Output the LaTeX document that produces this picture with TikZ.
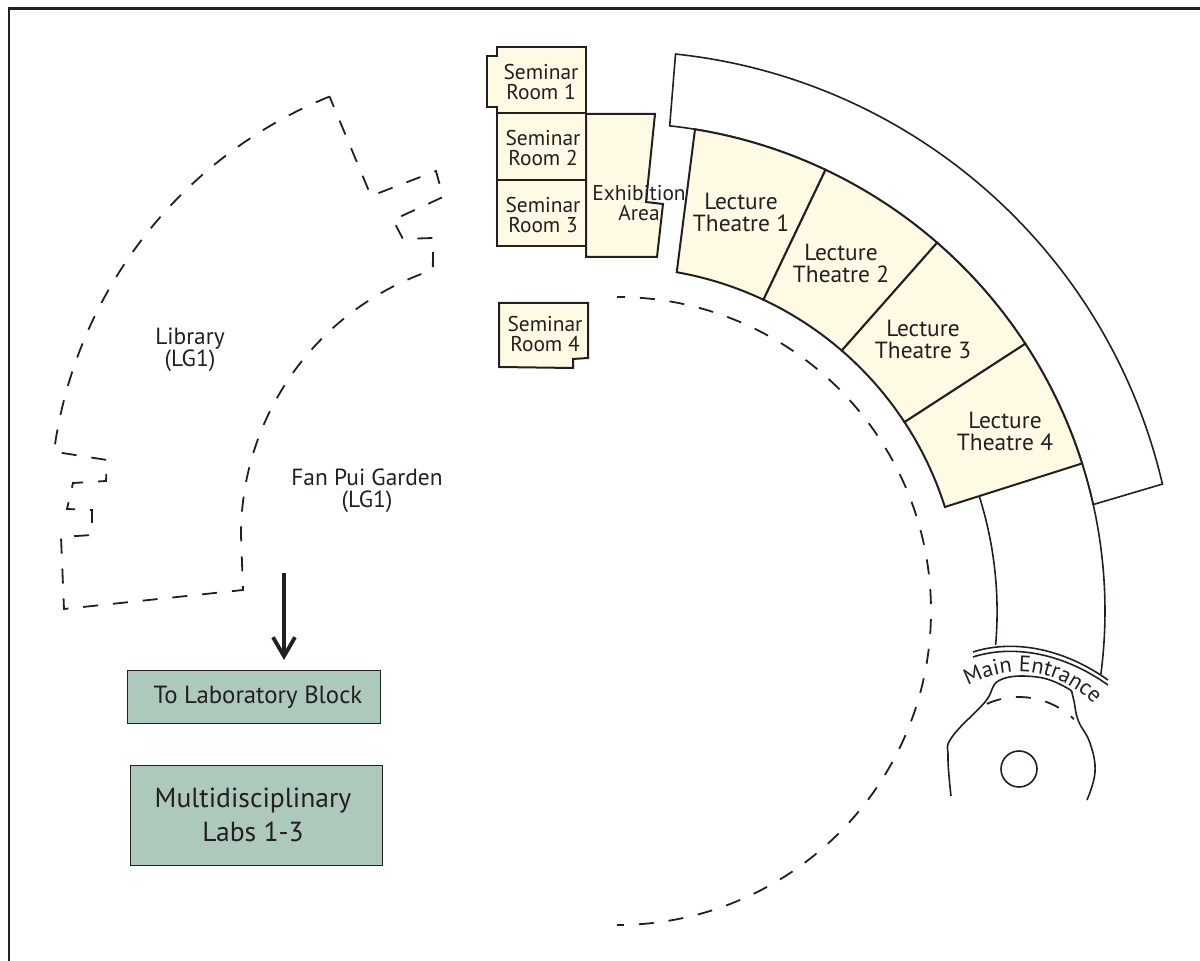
\documentclass[tikz,border=0pt]{standalone}
\usepackage{fontspec}
\setmainfont{PT Sans}
\usetikzlibrary{arrows.meta,decorations.text}
\definecolor{roomcream}{RGB}{255,250,227}
\definecolor{labgreen}{RGB}{173,201,187}
\definecolor{inkdark}{RGB}{35,31,32}
\tikzset{
	wall/.style={draw=inkdark,line width=.8pt},
	room/.style={draw=inkdark,line width=1pt,fill=roomcream},
	lab/.style={draw=inkdark,line width=.5pt,fill=labgreen},
	hidden/.style={draw=inkdark,line width=.9pt,dash pattern=on 7.5pt off 7.45pt},
	smalltxt/.style={text=inkdark,align=center,inner sep=0pt,font=\fontsize{10.7}{10}\selectfont},
	roomtxt/.style={text=inkdark,align=center,inner sep=0pt,font=\fontsize{11.7}{11}\selectfont},
	bigtxt/.style={text=inkdark,align=center,inner sep=0pt,font=\fontsize{13.8}{17}\selectfont}
}
\begin{document}
\begin{tikzpicture}[x=.5pt,y=-.5pt]
	\useasboundingbox (0,0) rectangle (1200,961);
	% frame
	\draw[draw=inkdark,line width=1.25pt] (9,961) -- (9,8.5) -- (1200,8.5);
	% rooms on the left of the exhibition area
	\path[room] (497,47) -- (586,47) -- (586,113) -- (497,113) -- (497,107) -- (487,107) -- (487,56) -- (497,56) -- cycle;
	\path[room] (497,113) rectangle (586,180);
	\path[room] (497,180) rectangle (586,246);
	\path[room] (586,114) -- (655,114) -- (646,202) -- (663,204) -- (657,257) -- (586,257) -- cycle;
	\path[room] (499,303) -- (588,303) -- (588,358) -- (573,359) -- (573,368) -- (499,367) -- cycle;
	\node[smalltxt] (seminarA) at (541,82) {Seminar\\Room 1};
	\node[smalltxt] (seminarB) at (543,148) {Seminar\\Room 2};
	\node[smalltxt] (seminarC) at (543,215) {Seminar\\Room 3};
	\node[smalltxt] (seminarD) at (545,334) {Seminar\\Room 4};
	\node[smalltxt] (exhibition) at (639,203) {Exhibition\\Area};
	% everything that follows the main curve
	\begin{scope}[shift={(617,611)}]
		\path[wall,fill=white] (-84:560) arc[start angle=-84,end angle=-13.1,radius=560] -- (-12.6:488) arc[start angle=-12.6,end angle=-83.8,radius=488] -- cycle;
		\path[room] (-80.8:488) arc[start angle=-80.8,end angle=-64.7,radius=488] -- (-64.8:344) arc[start angle=-64.8,end angle=-80,radius=344] -- cycle;
		\path[room] (-64.7:488) arc[start angle=-64.7,end angle=-49,radius=488] -- (-49.2:344) arc[start angle=-49.2,end angle=-64.8,radius=344] -- cycle;
		\path[room] (-49:488) arc[start angle=-49,end angle=-33.2,radius=488] -- (-33.3:344) arc[start angle=-33.3,end angle=-49.2,radius=344] -- cycle;
		\path[room] (-33.2:488) arc[start angle=-33.2,end angle=-17.6,radius=488] -- (-17.6:344) arc[start angle=-17.6,end angle=-33.3,radius=344] -- cycle;
		\draw[wall] (-17.6:380) arc[start angle=-17.6,end angle=5,radius=382];
		\draw[wall] (-17.6:488) arc[start angle=-17.6,end angle=7.5,radius=488];
		\draw[hidden,dash phase=3.5pt] (-90:314) arc[start angle=-90,end angle=90,radius=314];
	\end{scope}
	\node[roomtxt] (theatreA) at (741,212) {Lecture\\Theatre 1};
	\node[roomtxt] (theatreB) at (841,263) {Lecture\\Theatre 2};
	\node[roomtxt] (theatreC) at (923,339) {Lecture\\Theatre 3};
	\node[roomtxt] (theatreD) at (1005,431) {Lecture\\Theatre 4};
	% main entrance
	\draw[wall] (973,652) .. controls (1010,640) and (1060,646) .. (1108,680);
	\draw[wall] (973,657) .. controls (1010,645) and (1060,651) .. (1108,685);
	\path[postaction={decorate},decoration={text along path,text align=center,text={|\fontsize{11.2}{11}\selectfont\color{inkdark}|Main Entrance}}] (963,688) .. controls (1005,664) and (1055,664) .. (1098,708);
	\draw[wall] plot[smooth,tension=.7] coordinates {(951,796) (948,757) (952,737) (985,702) (1000,680) (1037,677) (1067,688) (1073,697) (1078,720) (1090,743) (1095,772) (1087,800)};
	\draw[hidden] (1019,776) ++(-114:79) arc[start angle=-114,end angle=-46,radius=79];
	\draw[wall] (1019,769) circle[radius=18];
	% library
	\draw[hidden] (497,511) ++(-112:447) arc[start angle=-112,end angle=-172.3,radius=447] -- (56,452) -- (107,460) -- (106,481) -- (73,483) -- (67,509) -- (92,510) -- (92,535) -- (61,537) -- (64,609) -- (243,590) -- (241,535) arc[start angle=-180,end angle=-108.2,radius=279] -- (433,238) -- (403,239) -- (393,220) -- (443,197) -- (436,171) -- (371,196) -- cycle;
	\node[roomtxt] (library) at (190,350) {Library\\(LG1)};
	\node[roomtxt] (garden) at (367,491) {Fan Pui Garden\\(LG1)};
	% labs
	\coordinate (arrowtop) at (284,573);
	\node[lab,minimum width=126.5pt,minimum height=26.5pt,inner sep=0pt] (labblock) at (253.5,697.5) {};
	\node[roomtxt,font=\fontsize{12.4}{12}\selectfont] (labtxt) at (258,697) {To Laboratory Block};
	\node[lab,minimum width=126pt,minimum height=50pt,inner sep=0pt] (multilab) at (256,816) {};
	\node[bigtxt] (multitxt) at (253,815) {Multidisciplinary\\Labs 1-3};
	\draw[draw=inkdark,line width=1.9pt,-{Straight Barb[length=9.5pt,width=11pt]}] (arrowtop) -- (284,660);
\end{tikzpicture}
\end{document}
